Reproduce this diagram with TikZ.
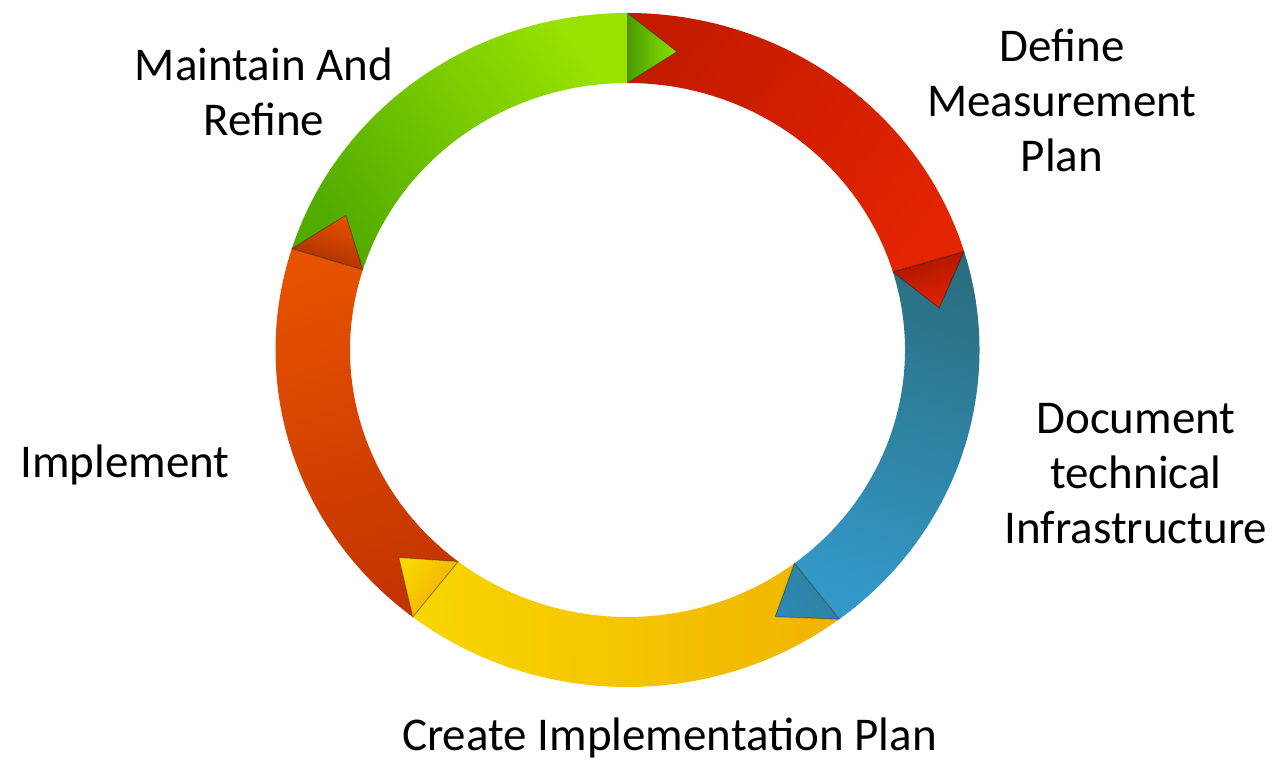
\documentclass[tikz,border=0pt]{standalone}
\usepackage{fontspec}
\setmainfont{Carlito}
\def\cx{627.5}\def\cy{414}
\def\ro{352}\def\rov{337}\def\ri{277.5}\def\riv{267}
\newcommand\ringband[3]{\path[#3] ({\cx+\ro*cos(#1)},{\cy+\rov*sin(#1)}) arc[start angle=#1,end angle=#2,x radius=\ro pt,y radius=\rov pt] -- ({\cx+\ri*cos(#2)},{\cy+\riv*sin(#2)}) arc[start angle=#2,end angle=#1,x radius=\ri pt,y radius=\riv pt] -- cycle;}
\newcommand\ringhead[2]{\path[#2] ({\cx+\ro*cos(#1)},{\cy+\rov*sin(#1)}) -- ({\cx+314.75*cos(#1-9)},{\cy+302*sin(#1-9)}) -- ({\cx+\ri*cos(#1)},{\cy+\riv*sin(#1)}) -- cycle;}
\definecolor{redA}{HTML}{C41A00}\definecolor{redB}{HTML}{E22400}
\definecolor{bluA}{HTML}{2A6F80}\definecolor{bluB}{HTML}{3398C8}
\definecolor{yelA}{HTML}{F0B400}\definecolor{yelB}{HTML}{F8D600}
\definecolor{oraA}{HTML}{C43400}\definecolor{oraB}{HTML}{E65200}
\definecolor{grnA}{HTML}{52AC00}\definecolor{grnB}{HTML}{98E200}
\begin{document}
\begin{tikzpicture}[x=1pt,y=1pt,
  lbl/.style={font=\fontsize{47}{55}\selectfont, align=center, inner sep=0pt, text=black},
  headedge/.style={draw=black, draw opacity=0.3, line width=1pt, line join=round}]
\useasboundingbox (0,0) rectangle (1278,764);
% bands
\ringband{90}{17}{top color=redA, bottom color=redB, shading angle=53.5}
\ringband{17}{-53}{top color=bluA, bottom color=bluB, shading angle=-18}
\ringband{-53}{-127.6}{top color=yelA, bottom color=yelB, shading angle=-90.3}
\ringband{232.4}{162.5}{top color=oraA, bottom color=oraB, shading angle=197.45}
\ringband{162.5}{90}{top color=grnA, bottom color=grnB, shading angle=126.25}
% arrow heads
\ringhead{90}{headedge, top color=grnA!90!black, bottom color=grnB!90!green, shading angle=90}
\ringhead{17}{headedge, top color=redA!85!black, bottom color=redB, shading angle=17}
\ringhead{-53}{headedge, top color=bluA!60!bluB, bottom color=bluB!90!black, shading angle=-53}
\ringhead{232.4}{headedge, top color=yelA!80!orange, bottom color=yelB, shading angle=232.4}
\ringhead{162.5}{headedge, top color=oraA!85!black, bottom color=oraB, shading angle=162.5}
% labels
\node[lbl] (maintain) at (264,672) {Maintain And\\Refine};
\node[lbl] (define) at (1062,664) {Define\\Measurement\\Plan};
\node[lbl] (document) at (1136,290) {Document\\technical\\Infrastructure};
\node[lbl] (implement) at (125,299) {Implement};
\node[lbl] (create) at (669.5,26) {Create Implementation Plan};
\end{tikzpicture}
\end{document}
